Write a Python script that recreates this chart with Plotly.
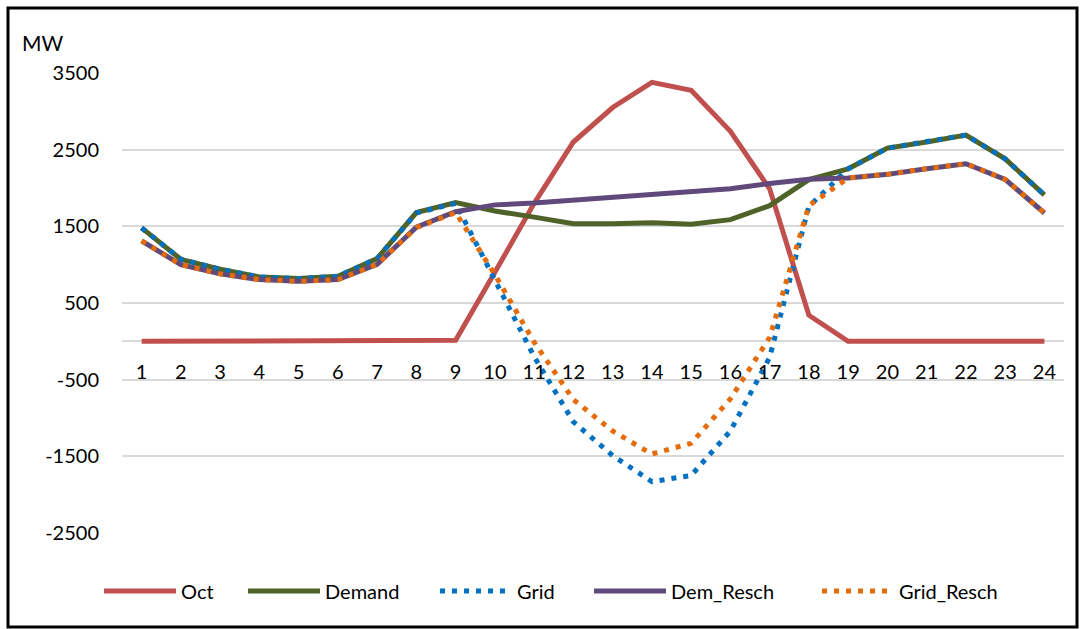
import plotly.graph_objects as go

hours = list(range(1, 25))
oct_pv = [0, 0, 0, 0, 0, 0, 0, 5, 15, 900, 1800, 2600, 3050, 3378, 3274, 2740, 1990, 340, 0, 0, 0, 0, 0, 0]
demand = [1480, 1070, 940, 840, 818, 848, 1080, 1680, 1810, 1700, 1620, 1535, 1535, 1548, 1526, 1587, 1770, 2110, 2250, 2520, 2600, 2690, 2380, 1910]
grid = [1480, 1070, 940, 840, 818, 848, 1080, 1675, 1800, 800, -200, -1050, -1490, -1830, -1750, -1170, -210, 1760, 2250, 2520, 2600, 2690, 2380, 1910]
dem_resch = [1310, 1000, 880, 805, 783, 805, 1004, 1490, 1690, 1780, 1805, 1840, 1875, 1908, 1948, 1990, 2058, 2115, 2130, 2178, 2252, 2317, 2113, 1674]
grid_resch = [1310, 1000, 880, 805, 783, 805, 1004, 1485, 1680, 870, -10, -760, -1170, -1470, -1330, -750, 50, 1770, 2130, 2178, 2252, 2317, 2113, 1674]
y_ticks = [-2500, -1500, -500, 500, 1500, 2500, 3500]
y_ticktext = ["-2500", "-1500", "-500", "500", "1500", "2500", "3500"]

FONT = "Lato"
W, H = 1082, 629
L, R, T, B = 122, 18, 73, 96

pw = W - L - R
ph = H - T - B
def px_x(x):
    return (x - L) / pw
def px_y(y):
    return (H - B - y) / ph

fig = go.Figure()
series = [
    ("Oct", oct_pv, "#C0504D", "solid", 104),
    ("Demand", demand, "#4F6228", "solid", 248),
    ("Grid", grid, "#0070C0", "5px,7px", 440),
    ("Dem_Resch", dem_resch, "#604A7B", "solid", 594),
    ("Grid_Resch", grid_resch, "#E46C0A", "5px,7px", 822),
]
legends = {}
for i, (name, vals, col, dash, lx) in enumerate(series):
    lname = "legend" if i == 0 else "legend%d" % (i + 1)
    fig.add_trace(go.Scatter(x=hours, y=vals, name=name, mode="lines",
                             line=dict(color=col, width=5, dash=dash),
                             legend=lname))
    legends[lname] = dict(orientation="h", x=px_x(lx - 5), xanchor="left",
                          y=px_y(591), yanchor="middle", font=dict(size=20),
                          itemwidth=72, bgcolor="rgba(0,0,0,0)", borderwidth=0)

fig.update_layout(
    width=W, height=H,
    margin=dict(l=L, r=R, t=T, b=B),
    paper_bgcolor="white", plot_bgcolor="white",
    font=dict(family=FONT, size=20, color="#000000"),
    showlegend=True,
    xaxis=dict(range=[0.5, 24.5], tickmode="array", tickvals=hours,
               ticktext=[str(h) for h in hours], showgrid=False, zeroline=False,
               showline=False, ticks="", anchor="free",
               position=(0 - (-2500)) / 6000, ticklabelstandoff=17),
    yaxis=dict(range=[-2500, 3500], tickmode="array", tickvals=y_ticks,
               ticktext=y_ticktext,
               showgrid=True, gridcolor="#D9D9D9", gridwidth=1.5,
               zeroline=True, zerolinecolor="#D9D9D9", zerolinewidth=1.5,
               showline=False, ticks="", ticklabelstandoff=22),
    annotations=[dict(text="MW", xref="paper", yref="paper", x=px_x(20), y=px_y(42),
                      xanchor="left", yanchor="middle", showarrow=False,
                      font=dict(size=21))],
    shapes=[dict(type="rect", xref="paper", yref="paper",
                 x0=px_x(8), x1=px_x(1077), y0=px_y(627), y1=px_y(8),
                 line=dict(color="#000000", width=3))],
    **legends,
)

fig.write_html("out.html", config={"displayModeBar": False},
               post_script="document.body.style.margin='0';")
